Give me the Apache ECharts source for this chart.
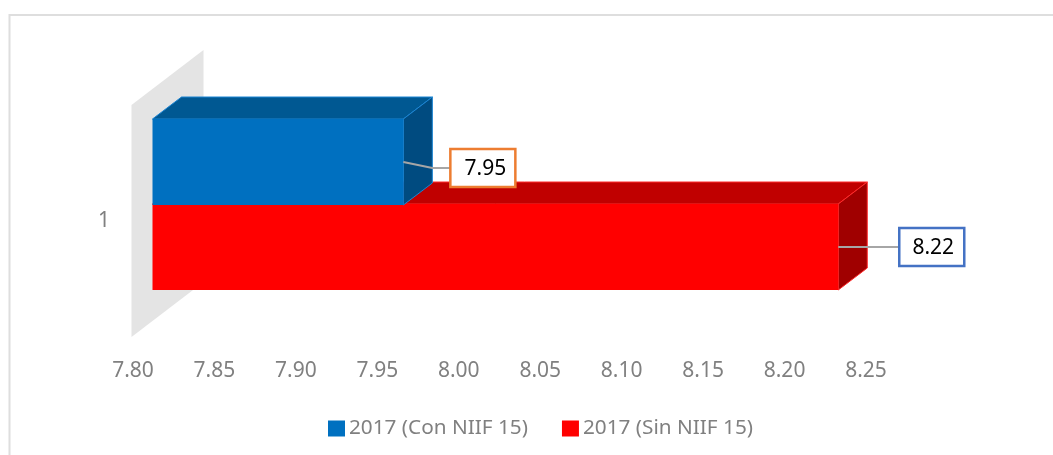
<!DOCTYPE html>
<html>
<head>
<meta charset="utf-8">
<style>html,body{margin:0;padding:0;background:#fff}#c{width:1053px;height:455px}</style>
<script src="https://cdn.jsdelivr.net/npm/echarts@6/dist/echarts.min.js"></script>
</head>
<body>
<div id="c"></div>
<script>
const categories = ['1'];
const seriesNames = ['2017 (Con NIIF 15)', '2017 (Sin NIIF 15)'];
const conNiif = [7.954];
const sinNiif = [8.221];
const axisMin = 7.8, axisMax = 8.25, axisStep = 0.05;

const FRONT_DX = 19.5, DEPTH_X = 29, DEPTH_Y = 22;
const FONT = '"Noto Sans", sans-serif';

const styles = {
  con: {front:'#0070C0', top:'#005892', side:'#004B80', edge:'#1B84D2', y0:-102, y1:-16,
        box:{dx:47,dy:-72,w:65,h:38,border:'#ED7D31',tx:35}, lead:[[0,-59],[29,-53],[47,-53]]},
  sin: {front:'#FF0000', top:'#C00000', side:'#A00000', edge:'#FF2A2A', y0:-17, y1:69,
        box:{dx:61,dy:7,w:65,h:38,border:'#4472C4',tx:34}, lead:[[0,26],[61,26]]}
};

function poly(points, fill, edge) {
  return {type:'polygon', shape:{points}, style:{fill, stroke:edge, lineWidth:edge?1:0}};
}

function barRenderer(s) {
  return function (params, api) {
    const base = api.coord([axisMin, api.value(1)]);
    const end = api.coord([api.value(0), api.value(1)]);
    const cy = base[1];
    const xl = base[0] + FRONT_DX, xr = end[0] + FRONT_DX;
    const t = cy + s.y0, b = cy + s.y1;
    const children = [
      poly([[xl,t],[xl+DEPTH_X,t-DEPTH_Y],[xr+DEPTH_X,t-DEPTH_Y],[xr,t]], s.top, s.edge),
      poly([[xr,t],[xr+DEPTH_X,t-DEPTH_Y],[xr+DEPTH_X,b-DEPTH_Y],[xr,b]], s.side, s.edge),
      poly([[xl,t],[xr,t],[xr,b],[xl,b]], s.front, null),
      {type:'polyline', shape:{points:s.lead.map(p=>[xr+p[0], cy+p[1]])},
       style:{stroke:'#A6A6A6', lineWidth:2, fill:null}},
      {type:'rect', shape:{x:xr+s.box.dx, y:cy+s.box.dy, width:s.box.w, height:s.box.h},
       style:{fill:'#fff', stroke:s.box.border, lineWidth:2.5}},
      {type:'text', x:xr+s.box.dx+s.box.tx, y:cy+s.box.dy+s.box.h/2+1,
       style:{text:api.value(0).toFixed(2), fill:'#000', font:'21px '+FONT, align:'center', verticalAlign:'middle'}}
    ];
    return {type:'group', children};
  };
}

function wallRenderer(params, api) {
  const p = api.coord([axisMin, 0]);
  const h = api.size([0,1])[1];
  const x = p[0] - 1.5, top = p[1] - h/2, bottom = p[1] + h/2;
  return poly([[x,top],[x+72,top-55],[x+72,bottom-55],[x,bottom]], '#E4E4E4', null);
}

const chart = echarts.init(document.getElementById('c'), null, {renderer:'canvas'});
chart.setOption({
  animation:false,
  backgroundColor:'#fff',
  graphic:[{type:'polyline', shape:{points:[[9.5,456],[9.5,15],[1054,15]]}, style:{fill:null,stroke:'#DEDEDE',lineWidth:2}, silent:true, z:-1}],
  grid:{left:133, right:187, top:105, height:232, containLabel:false},
  xAxis:{type:'value', min:axisMin, max:axisMax, interval:axisStep,
    axisLine:{show:false}, axisTick:{show:false}, splitLine:{show:false},
    axisLabel:{formatter:v=>v.toFixed(2), color:'#808080', fontFamily:FONT, fontSize:21, margin:24}},
  yAxis:{type:'category', data:categories,
    axisLine:{show:false}, axisTick:{show:false}, splitLine:{show:false},
    axisLabel:{color:'#808080', fontFamily:FONT, fontSize:21, margin:23, padding:[10,0,0,0]}},
  legend:{data:seriesNames, left:323, top:413, icon:'rect', itemWidth:17, itemHeight:16, itemGap:34,
    textStyle:{color:'#808080', fontFamily:FONT, fontSize:20.75, padding:[0,0,0,-1]}, selectedMode:false},
  series:[
    {type:'custom', name:'wall', coordinateSystem:'cartesian2d', z:1, silent:true, renderItem:wallRenderer,
     data:[[axisMin,0]], encode:{x:0,y:1}},
    {type:'custom', name:seriesNames[1], coordinateSystem:'cartesian2d', z:2, silent:true, renderItem:barRenderer(styles.sin),
     itemStyle:{color:'#FF0000'}, data:sinNiif.map((v,i)=>[v,i]), encode:{x:0,y:1}},
    {type:'custom', name:seriesNames[0], coordinateSystem:'cartesian2d', z:3, silent:true, renderItem:barRenderer(styles.con),
     itemStyle:{color:'#0070C0'}, data:conNiif.map((v,i)=>[v,i]), encode:{x:0,y:1}}
  ]
});
</script>
</body>
</html>
